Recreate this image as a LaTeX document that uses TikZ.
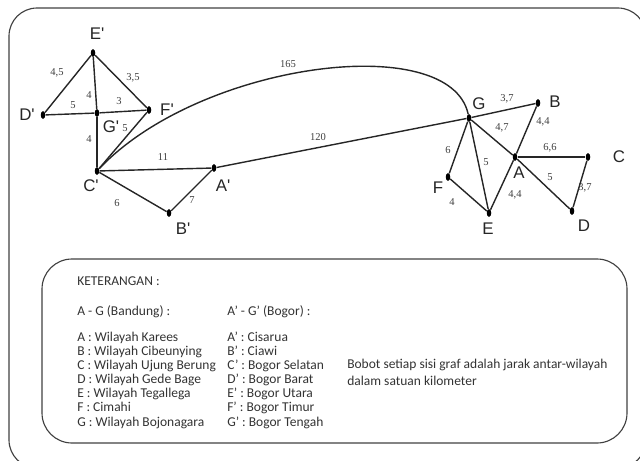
\documentclass[tikz,border=0pt]{standalone}
\usepackage{fontspec}
\setmainfont{Carlito}
\newfontfamily\vfont{Liberation Sans}
\newfontfamily\wfont{Liberation Serif}
\usetikzlibrary{shapes.geometric}
\tikzset{
  vtx/.style={ellipse,fill=black,inner sep=0pt,minimum width=3.2pt,minimum height=5.5pt},
  vlbl/.style={font=\vfont\fontsize{12}{14}\selectfont,text=black!85,inner sep=0pt},
  wt/.style={font=\wfont\fontsize{7.5}{9}\selectfont,text=black!75,inner sep=0pt},
  edge/.style={draw=black!85,line width=1pt},
  frame/.style={draw=black!75,line width=0.8pt},
  lgd/.style={font=\fontsize{9.6}{10}\selectfont,text=black!80,anchor=base west,inner sep=0pt},
}
\begin{document}
\begin{tikzpicture}[x=0.025cm,y=-0.025cm]
\useasboundingbox (0,0) rectangle (640,461);
% frames
\draw[frame,rounded corners=0.7cm] (9,8) rectangle (646,468);
\draw[frame,rounded corners=0.75cm] (42,259) rectangle (627,443);

% Bogor
\node[vtx] (Ap) at (214,168) {};
\node[vtx] (Bp) at (169,213) {};
\node[vtx] (Cp) at (97,171) {};
\node[vtx] (Dp) at (43,115) {};
\node[vtx] (Ep) at (93,53) {};
\node[vtx] (Fp) at (149,110) {};
\node[vtx] (Gp) at (97,113) {};
\node[vlbl] (lAp) at (223,186) {A'};
\node[vlbl] (lBp) at (183,229) {B'};
\node[vlbl] (lCp) at (91,186) {C'};
\node[vlbl] (lDp) at (27,115) {D'};
\node[vlbl] (lEp) at (97,34) {E'};
\node[vlbl] (lFp) at (167,110) {F'};
\node[vlbl] (lGp) at (111,127) {G'};

% Bandung
\node[vtx] (A) at (515,157) {};
\node[vtx] (B) at (538,103) {};
\node[vtx] (C) at (588,157) {};
\node[vtx] (D) at (572,211) {};
\node[vtx] (E) at (489,213) {};
\node[vtx] (F) at (448,177) {};
\node[vtx] (G) at (469,118) {};
\node[vlbl] (lA) at (519,173) {A};
\node[vlbl] (lB) at (555,102) {B};
\node[vlbl] (lC) at (619,157) {C};
\node[vlbl] (lD) at (584,226) {D};
\node[vlbl] (lE) at (488,229) {E};
\node[vlbl] (lF) at (438,188) {F};
\node[vlbl] (lG) at (479,104) {G};

% edges
\draw[edge] (Ep) -- (Dp);
\draw[edge] (Ep) -- (Gp);
\draw[edge] (Ep) -- (Fp);
\draw[edge] (Dp) -- (Gp);
\draw[edge] (Gp) -- (Fp);
\draw[edge] (Gp) -- (Cp);
\draw[edge] (Cp) -- (Fp);
\draw[edge] (Cp) -- (Ap);
\draw[edge] (Cp) -- (Bp);
\draw[edge] (Bp) -- (Ap);
\draw[edge] (Ap) -- (G);
\draw[edge] (Cp) .. controls (200,62) and (450,30) .. (G);
\draw[edge] (G) -- (B);
\draw[edge] (G) -- (A);
\draw[edge] (B) -- (A);
\draw[edge] (A) -- (C);
\draw[edge] (G) -- (F);
\draw[edge] (G) -- (E);
\draw[edge] (A) -- (D);
\draw[edge] (E) -- (A);
\draw[edge] (F) -- (E);
\draw[edge] (C) -- (D);

% weights
\node[wt] (w1) at (57,73) {4,5};
\node[wt] (w2) at (89,95) {4};
\node[wt] (w3) at (133,78) {3,5};
\node[wt] (w4) at (73,105) {5};
\node[wt] (w5) at (119,101) {3};
\node[wt] (w6) at (89,139) {4};
\node[wt] (w7) at (125,128) {5};
\node[wt] (w8) at (163,157) {11};
\node[wt] (w9) at (117,203) {6};
\node[wt] (w10) at (192,200) {7};
\node[wt] (w11) at (288,64) {165};
\node[wt] (w12) at (318,137) {120};
\node[wt] (w13) at (507,99) {3,7};
\node[wt] (w14) at (502,128) {4,7};
\node[wt] (w15) at (543,122) {4,4};
\node[wt] (w16) at (550,148) {6,6};
\node[wt] (w17) at (448,150) {6};
\node[wt] (w18) at (486,162) {5};
\node[wt] (w19) at (550,177) {5};
\node[wt] (w20) at (515,195) {4,4};
\node[wt] (w21) at (452,202) {4};
\node[wt] (w22) at (585,188) {3,7};

% keterangan
\node[lgd] (ket) at (77,285) {KETERANGAN :};
\node[lgd] (bdg) at (77,315) {A - G (Bandung) :};
\node[lgd] (bgr) at (227,315) {A' - G' (Bogor) :};
\foreach \t [count=\i] in {A : Wilayah Karees,B : Wilayah Cibeunying,C : Wilayah Ujung Berung,D : Wilayah Gede Bage,E : Wilayah Tegallega,F : Cimahi,G : Wilayah Bojonagara}
  \node[lgd] (l\i) at (77,{341+14.17*(\i-1)}) {\t};
\foreach \t [count=\i] in {A' : Cisarua,B' : Ciawi,C' : Bogor Selatan,D' : Bogor Barat,E' : Bogor Utara,F' : Bogor Timur,G' : Bogor Tengah}
  \node[lgd] (r\i) at (227,{341+14.17*(\i-1)}) {\t};
\node[lgd] (bbt1) at (347,368) {Bobot setiap sisi graf adalah jarak antar-wilayah};
\node[lgd] (bbt2) at (347,385) {dalam satuan kilometer};
\end{tikzpicture}
\end{document}
